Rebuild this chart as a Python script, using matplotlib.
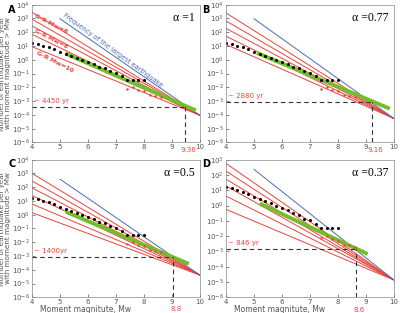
import numpy as np
import matplotlib
matplotlib.use('Agg')
from matplotlib import pyplot as plt

# panel labels and text
letters = ['A', 'B', 'C', 'D']
alphas = ['1', '0.77', '0.5', '0.37']
ret_text = ['~ 4450 yr', '~ 2880 yr', '~ 1400yr', '~ 846 yr']
mw_text = ['9.36', '9.16', '8.8', '8.6']
mw_text_logn = [-6.58, -6.58, -6.85, -6.85]

# G-R lines: log10 N at Mw=4 and where they meet at Mw=10
gr_start = [[3.45, 2.95, 2.45, 1.85, 0.95],
            [3.4, 2.82, 2.28, 1.71, 1.11],
            [3.0, 2.45, 1.95, 1.4, 0.78, 0.15],
            [2.75, 2.25, 1.72, 1.28, 0.62, -0.25]]
gr_end = [-4.04, -4.27, -4.39, -4.87]

# frequency of the largest earthquake (blue), from Mw=5 to Mw=10
big_start = [2.98, 2.98, 2.58, 2.36]

# green fit line end points (Mw, log10 N)
green_mw = [[5.2, 9.85], [5.1, 9.85], [5.2, 9.6], [5.2, 9.06]]
green_logn = [[0.45, -3.68], [0.5, -3.55], [0.22, -3.57], [0.13, -3.17]]

# crossing point (dashed lines)
cross_mw = [9.45, 9.2, 9.02, 8.65]
cross_logn = [-3.4, -3.04, -3.09, -2.85]

y_top = [4, 4, 4, 3]

# observed catalogue
mag = [4.0, 4.2, 4.4, 4.6, 4.8, 5.0, 5.2, 5.4, 5.6, 5.8, 6.0,
       6.2, 6.4, 6.6, 6.8, 7.0, 7.2, 7.4, 7.6, 7.8, 8.0]
obs_logn = [1.2, 1.12, 1.0, 0.9, 0.75, 0.55, 0.4, 0.3, 0.15, 0.0, -0.15,
            -0.3, -0.5, -0.6, -0.85, -0.95, -1.2, -1.45, -1.45, -1.45, -1.45]
red_mag = [7.4, 7.6, 7.8, 8.0, 8.2, 8.4, 8.6]
red_logn = [-2.1, -2.0, -2.2, -2.3, -2.55, -2.6, -2.7]

red = '#e8453c'
blue = '#4a6db0'
green = '#74bd2a'
grey = '#555555'

fig = plt.figure(figsize=(4.0, 3.13), dpi=100)
pos = [[0.08, 0.545, 0.42, 0.44],
       [0.565, 0.545, 0.42, 0.44],
       [0.08, 0.05, 0.42, 0.44],
       [0.565, 0.05, 0.42, 0.44]]

for i in range(4):
    ax = fig.add_axes(pos[i])
    ax.set_yscale('log')
    ax.set_xlim(4, 10)
    ax.set_ylim(1e-6, 10.0**y_top[i])

    for s in gr_start[i]:
        ax.plot([4, 10], [10.0**s, 10.0**gr_end[i]], color=red, lw=0.7)
    ax.plot([5, 10], [10.0**big_start[i], 10.0**gr_end[i]], color=blue, lw=0.7)
    ax.plot(green_mw[i], 10.0**np.array(green_logn[i]), color=green, lw=2.8,
            solid_capstyle='butt')
    ax.plot(mag, 10.0**np.array(obs_logn), 'o', color='k', ms=2.2, mew=0)
    ax.plot(red_mag, 10.0**np.array(red_logn), 'o', color=red, ms=1.8, mew=0)

    cy = 10.0**cross_logn[i]
    ax.plot([4, cross_mw[i]], [cy, cy], ls=(0, (4, 3)), color='#333333', lw=0.8)
    ax.plot([cross_mw[i], cross_mw[i]], [1e-6, cy], ls=(0, (4, 3)), color='#333333', lw=0.8)
    ax.text(4.08, cy * 1.6, ret_text[i], color=red, fontsize=5, va='bottom')
    ax.text(cross_mw[i] + 0.12, 10.0**mw_text_logn[i], mw_text[i], color=red,
            fontsize=5, ha='center', va='center', clip_on=False)

    ax.text(0.97, 0.95, '\u03b1 =' + alphas[i], transform=ax.transAxes,
            ha='right', va='top', fontsize=8.5, family='Liberation Serif')
    fig.text(pos[i][0] - 0.06, pos[i][1] + pos[i][3] - 0.025, letters[i],
             fontsize=7, fontweight='bold')

    ax.set_xticks([4, 5, 6, 7, 8, 9, 10])
    ax.set_yticks([10.0**k for k in range(-6, y_top[i] + 1)])
    ax.minorticks_off()
    ax.tick_params(direction='in', length=2, width=0.5, labelsize=5,
                   colors=grey, pad=1.5)
    for sp in ax.spines.values():
        sp.set_linewidth(0.5)
        sp.set_color('#888888')

    if i in (0, 2):
        ax.set_ylabel('Number of earthquake per year\nwith moment magnitude > Mw',
                      fontsize=5.2, color=grey, labelpad=1, linespacing=1.0)
    if i in (2, 3):
        ax.set_xlabel('Moment magnitute, Mw', fontsize=5.5, color=grey,
                      labelpad=0, x=0.32)

    if i == 0:
        kw = dict(color=red, fontsize=4.5, fontweight='bold', rotation=-27,
                  rotation_mode='anchor', ha='left', va='center')
        ax.text(4.1, 10.0**3.2, 'G-R Mw=6', **kw)
        ax.text(4.1, 10.0**2.1, 'G-R Mw=8', **kw)
        ax.text(4.15, 10.0**0.5, 'G-R Mw=10', **kw)
        ax.text(6.9, 10.0**0.7, 'Frequency of the largest earthquake', color=blue,
                fontsize=4.8, rotation=-36, ha='center', va='center')

fig.savefig('out.png', dpi=100)
